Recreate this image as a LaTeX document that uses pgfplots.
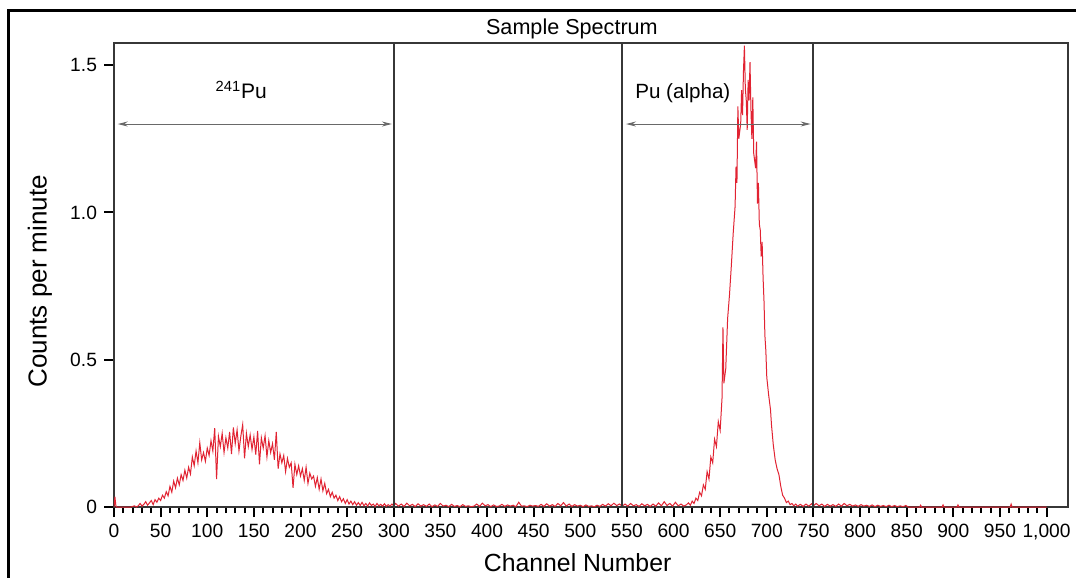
\documentclass[border=0pt]{standalone}
\usepackage{fontspec}
\setmainfont{Liberation Sans}
\usepackage{pgfplots}
\pgfplotsset{compat=1.18}
\usetikzlibrary{arrows.meta}

\definecolor{specred}{RGB}{225,35,50}
\definecolor{framegray}{RGB}{55,55,55}
\definecolor{arrowgray}{RGB}{105,105,105}

\begin{document}
\begin{tikzpicture}
\useasboundingbox (0,0) rectangle (538pt,289pt);
% outer frame (left and top edges only)
\draw[line width=1.5pt,black] (4.2pt,0) -- (4.2pt,283.7pt) -- (538pt,283.7pt);

\begin{axis}[
    at={(57pt,35.5pt)}, anchor=south west,
    width=477pt, height=231.85pt, scale only axis,
    xmin=0, xmax=1023,
    ymin=0, ymax=1.574,
    axis line style={framegray,line width=1pt},
    tick align=outside,
    xtick pos=bottom, ytick pos=left,
    xtick={0,50,...,1000},
    minor x tick num=4,
    ytick={0,0.5,1,1.5},
    yticklabels={0,0.5,1.0,1.5},
    major tick length=5pt,
    minor tick length=3pt,
    every tick/.style={black,line width=1pt},
    /pgf/number format/assume math mode=true,
    /pgf/number format/1000 sep={,},
    tick label style={font=\fontsize{9.6}{11}\selectfont,black},
    every axis x label/.style={at={(rel axis cs:0.486,0)},anchor=center,yshift=-28pt},
    every axis y label/.style={at={(rel axis cs:0,0.487)},rotate=90,anchor=center,yshift=37pt},
    xlabel={\fontsize{12.4}{14}\selectfont Channel Number},
    ylabel={\fontsize{13}{15}\selectfont Counts per minute},
    every axis title/.style={at={(rel axis cs:0.48,1)},anchor=center,yshift=7pt},
    title={\fontsize{10.8}{12}\selectfont Sample Spectrum},
]

\addplot[specred, line width=0.5pt] coordinates {
(0,0.0)(1,0.035)(2,0.004)(3,0)(10,0)(18,0)(22,0.004)(24,0)
(26,0.004)(28,0.012)(30,0.003)(32,0.009)(34,0.018)(36,0.006)(38,0.014)(40,0.022)
(42,0.008)(44,0.025)(46,0.016)(48,0.030)(50,0.022)(52,0.040)(54,0.030)(56,0.052)
(58,0.038)(60,0.070)(62,0.050)(64,0.088)(66,0.065)(68,0.098)(70,0.075)(72,0.110)
(74,0.090)(76,0.125)(78,0.098)(80,0.135)(82,0.112)(84,0.170)(86,0.140)(88,0.190)
(90,0.150)(92,0.218)(94,0.160)(96,0.185)(98,0.155)(100,0.200)(102,0.175)(104,0.225)
(106,0.190)(108,0.268)(110,0.095)(112,0.240)(114,0.205)(116,0.250)(118,0.185)(120,0.235)
(122,0.200)(124,0.255)(126,0.180)(128,0.270)(130,0.215)(132,0.262)(134,0.190)(136,0.240)
(138,0.280)(140,0.165)(142,0.250)(144,0.205)(146,0.245)(148,0.195)(150,0.238)(152,0.178)
(154,0.258)(156,0.145)(158,0.235)(160,0.200)(162,0.242)(164,0.170)(166,0.225)(168,0.185)
(170,0.215)(172,0.160)(174,0.255)(176,0.130)(178,0.180)(180,0.150)(182,0.175)(184,0.120)
(186,0.165)(188,0.135)(190,0.150)(192,0.065)(194,0.145)(196,0.110)(198,0.140)(200,0.105)
(202,0.130)(204,0.090)(206,0.135)(208,0.080)(210,0.115)(212,0.095)(214,0.105)(216,0.070)
(218,0.100)(220,0.060)(222,0.095)(224,0.055)(226,0.080)(228,0.045)(230,0.060)(232,0.035)
(234,0.050)(236,0.030)(238,0.040)(240,0.022)(242,0.035)(244,0.018)(246,0.028)(248,0.012)
(250,0.025)(252,0.010)(254,0.020)(256,0.008)(258,0.018)(260,0.006)(262,0.015)(264,0.005)
(266,0.016)(268,0.004)(270,0.012)(272,0.003)(274,0.014)(276,0.005)(278,0.010)(280,0.002)
(282,0.012)(284,0.004)(286,0.009)(288,0.003)(290,0.011)(292,0.002)(294,0.008)(296,0.003)
(298,0.010)(300,0.004)
(302,0.012)(305,0.003)(308,0.010)(311,0.002)(314,0.013)(317,0.004)(320,0.009)(323,0.001)
(326,0.011)(329,0.003)(332,0.008)(335,0.002)(338,0.010)(341,0.001)(344,0.007)(347,0.002)
(350,0.012)(353,0.003)(356,0.006)(359,0.001)(362,0.009)(365,0.002)(368,0.005)(371,0.001)
(374,0.008)(377,0.002)(380,0.004)(383,0.001)(386,0.003)(389,0.010)(392,0.002)(395,0.013)
(398,0.004)(401,0.008)(404,0.001)(407,0.007)(410,0.002)(413,0.003)(416,0.009)(419,0.002)
(422,0.007)(425,0.003)(428,0.006)(431,0.001)(434,0.016)(437,0.003)(440,0.004)(443,0.001)
(446,0.006)(449,0.003)(452,0.005)(455,0.002)(458,0.009)(461,0.002)(464,0.011)(467,0.003)
(470,0.008)(473,0.002)(476,0.012)(479,0.004)(482,0.015)(485,0.003)(488,0.010)(491,0.002)
(494,0.008)(497,0.003)(500,0.006)(503,0.001)(506,0.007)(509,0.002)(512,0.004)(515,0.001)
(518,0.006)(521,0.002)(524,0.009)(527,0.003)(530,0.011)(533,0.004)(536,0.013)(539,0.005)
(542,0.010)(545,0.003)
(548,0.010)(551,0.003)(554,0.012)(557,0.004)(560,0.008)(563,0.002)(566,0.011)(569,0.004)
(572,0.009)(575,0.002)(578,0.010)(581,0.003)(584,0.014)(587,0.004)(590,0.018)(593,0.005)
(596,0.012)(599,0.003)(602,0.016)(605,0.004)(608,0.010)(611,0.003)(614,0.008)(616,0.014)
(618,0.006)(620,0.020)
(622,0.012)(624,0.030)(626,0.022)(628,0.050)(630,0.038)(632,0.075)(634,0.060)(636,0.120)
(638,0.095)(640,0.170)(642,0.150)(644,0.230)(646,0.205)(648,0.290)(650,0.260)(652,0.370)
(653,0.610)(654,0.420)(656,0.470)(658,0.640)(660,0.720)(662,0.820)(664,0.930)(666,1.020)
(667,1.155)(668,1.100)(669,1.360)(670,1.250)(672,1.300)(673,1.415)(674,1.330)(675,1.480)
(676,1.566)(677,1.420)(678,1.380)(679,1.280)(680,1.450)(681,1.380)(682,1.510)(683,1.350)
(684,1.250)(685,1.390)(686,1.200)(688,1.150)(689,1.240)(690,1.030)(691,1.100)(692,0.960)
(693,0.940)(694,0.850)(695,0.900)(696,0.780)(697,0.700)(698,0.580)(699,0.530)(700,0.440)
(702,0.380)(704,0.330)(705,0.280)(707,0.210)(709,0.160)(711,0.130)(713,0.110)(715,0.070)
(717,0.040)(719,0.030)(721,0.015)(723,0.020)(725,0.008)(727,0.012)(729,0.004)(731,0.010)
(733,0.003)(736,0.009)(739,0.002)(742,0.010)(745,0.003)(748,0.011)(750,0.004)
(753,0.012)(756,0.004)(759,0.010)(762,0.002)(765,0.009)(768,0.003)(771,0.008)(774,0.002)
(777,0.010)(780,0.003)(783,0.012)(786,0.004)(789,0.009)(792,0.003)(795,0.007)(798,0.002)
(801,0.008)(804,0.003)(807,0.006)(810,0.002)(813,0.007)(816,0.001)(819,0.006)(822,0.002)
(825,0.005)(828,0.001)(831,0.006)(834,0.001)(837,0.005)(840,0.001)(843,0.004)(846,0.001)
(849,0.005)(852,0.0)(864,0)(865,0.006)(866,0)(888,0)(889,0.007)(890,0)(904,0)(905,0.007)
(906,0)(961,0)(962,0.010)(963,0)(1000,0)
};

% region boundaries
\draw[framegray,line width=1pt] (axis cs:300,0) -- (axis cs:300,1.574);
\draw[framegray,line width=1pt] (axis cs:545,0) -- (axis cs:545,1.574);
\draw[framegray,line width=1pt] (axis cs:750,0) -- (axis cs:750,1.574);

% region arrows and labels
\draw[arrowgray,line width=0.5pt,{Stealth[length=5pt,width=2.5pt]}-{Stealth[length=5pt,width=2.5pt]}]
    (axis cs:4,1.30) -- (axis cs:298,1.30);
\draw[arrowgray,line width=0.5pt,{Stealth[length=5pt,width=2.5pt]}-{Stealth[length=5pt,width=2.5pt]}]
    (axis cs:549,1.30) -- (axis cs:747,1.30);
\node[anchor=base,inner sep=0pt,font=\fontsize{10.5}{12}\selectfont] at (axis cs:136.5,1.385) {\textsuperscript{241}Pu};
\node[anchor=base,inner sep=0pt,font=\fontsize{10.3}{12}\selectfont] at (axis cs:610,1.387) {Pu (alpha)};

\end{axis}
\end{tikzpicture}
\end{document}
